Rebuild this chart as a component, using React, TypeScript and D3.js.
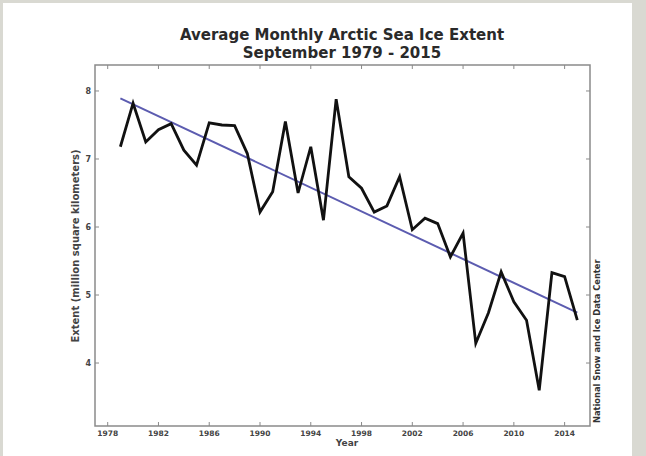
import React from "react";
import * as d3 from "d3";

const years: number[] = [
  1979, 1980, 1981, 1982, 1983, 1984, 1985, 1986, 1987, 1988, 1989, 1990, 1991,
  1992, 1993, 1994, 1995, 1996, 1997, 1998, 1999, 2000, 2001, 2002, 2003, 2004,
  2005, 2006, 2007, 2008, 2009, 2010, 2011, 2012, 2013, 2014, 2015,
];
const extent: number[] = [
  7.18, 7.82, 7.25, 7.43, 7.52, 7.13, 6.91, 7.53, 7.5, 7.49, 7.08, 6.22, 6.52,
  7.55, 6.5, 7.18, 6.1, 7.88, 6.74, 6.57, 6.22, 6.31, 6.74, 5.96, 6.13, 6.05,
  5.56, 5.91, 4.29, 4.74, 5.34, 4.9, 4.63, 3.6, 5.33, 5.27, 4.63,
];
const xTicks: number[] = [1978, 1982, 1986, 1990, 1994, 1998, 2002, 2006, 2010, 2014];
const yTicks: number[] = [4, 5, 6, 7, 8];
const titleLines: string[] = ["Average Monthly Arctic Sea Ice Extent", "September 1979 - 2015"];
const xLabel = "Year";
const yLabel = "Extent (million square kilometers)";
const sourceLabel = "National Snow and Ice Data Center";

const W = 646;
const H = 456;
const plot = { left: 95, right: 590, top: 65, bottom: 426 };
const font = "DejaVu Sans, sans-serif";

export default function App() {
  const x = d3.scaleLinear().domain([1977, 2016]).range([plot.left, plot.right]);
  const y = d3.scaleLinear().domain([3.074, 8.382]).range([plot.bottom, plot.top]);

  const pts: [number, number][] = years.map((yr, i) => [yr, extent[i]]);
  const line = d3
    .line<[number, number]>()
    .x((d) => x(d[0]))
    .y((d) => y(d[1]));

  const mx = d3.mean(years) as number;
  const my = d3.mean(extent) as number;
  const sxy = d3.sum(years.map((yr, i) => (yr - mx) * (extent[i] - my)));
  const sxx = d3.sum(years.map((yr) => (yr - mx) * (yr - mx)));
  const slope = sxy / sxx;
  const icpt = my - slope * mx;
  const x0 = years[0];
  const x1 = years[years.length - 1];
  const trend: [number, number][] = [
    [x0, icpt + slope * x0],
    [x1, icpt + slope * x1],
  ];

  const spine = "#8a8a8a";

  return (
    <svg
      width={W}
      height={H}
      style={{ position: "absolute", left: 0, top: 0, display: "block" }}
    >
      <rect x={0} y={0} width={W} height={H} fill="#d9d9d2" />
      <rect x={3} y={3} width={629} height={H - 3} fill="#ffffff" />

      {titleLines.map((t, i) => (
        <text
          key={i}
          x={342}
          y={40 + i * 18}
          textAnchor="middle"
          fontFamily={font}
          fontSize={15}
          fontWeight="bold"
          fill="#2a2a2a"
        >
          {t}
        </text>
      ))}

      {/* trend line */}
      <path d={line(trend) || ""} fill="none" stroke="#5c5cb0" strokeWidth={2} />
      {/* data line */}
      <path
        d={line(pts) || ""}
        fill="none"
        stroke="#111"
        strokeWidth={2.8}
        strokeLinejoin="miter"
      />

      {/* spines */}
      <rect
        x={plot.left}
        y={plot.top}
        width={plot.right - plot.left}
        height={plot.bottom - plot.top}
        fill="none"
        stroke={spine}
        strokeWidth={1.5}
      />

      {/* y ticks */}
      {yTicks.map((t) => (
        <g key={t}>
          <line x1={plot.left} x2={plot.left + 4} y1={y(t)} y2={y(t)} stroke={spine} />
          <line x1={plot.right} x2={plot.right - 4} y1={y(t)} y2={y(t)} stroke={spine} />
          <text
            x={plot.left - 4}
            y={y(t) + 3}
            textAnchor="end"
            fontFamily={font}
            fontSize={8}
            fontWeight="bold"
            fill="#444"
          >
            {t}
          </text>
        </g>
      ))}

      {/* x ticks */}
      {xTicks.map((t) => (
        <g key={t}>
          <line x1={x(t)} x2={x(t)} y1={plot.bottom} y2={plot.bottom - 4} stroke={spine} />
          <line x1={x(t)} x2={x(t)} y1={plot.top} y2={plot.top + 4} stroke={spine} />
          <text
            x={x(t)}
            y={plot.bottom + 10}
            textAnchor="middle"
            fontFamily={font}
            fontSize={7.5}
            fontWeight="bold"
            fill="#444"
          >
            {t}
          </text>
        </g>
      ))}

      <text
        x={347}
        y={446}
        textAnchor="middle"
        fontFamily={font}
        fontSize={9}
        fontWeight="bold"
        fill="#444"
      >
        {xLabel}
      </text>

      <text
        transform={`translate(79, 246) rotate(-90)`}
        textAnchor="middle"
        fontFamily={font}
        fontSize={10}
        fontWeight="bold"
        fill="#444"
      >
        {yLabel}
      </text>

      <text
        transform={`translate(600, 423) rotate(-90)`}
        textAnchor="start"
        fontFamily={font}
        fontSize={8.3}
        fontWeight="bold"
        fill="#333"
      >
        {sourceLabel}
      </text>
    </svg>
  );
}
